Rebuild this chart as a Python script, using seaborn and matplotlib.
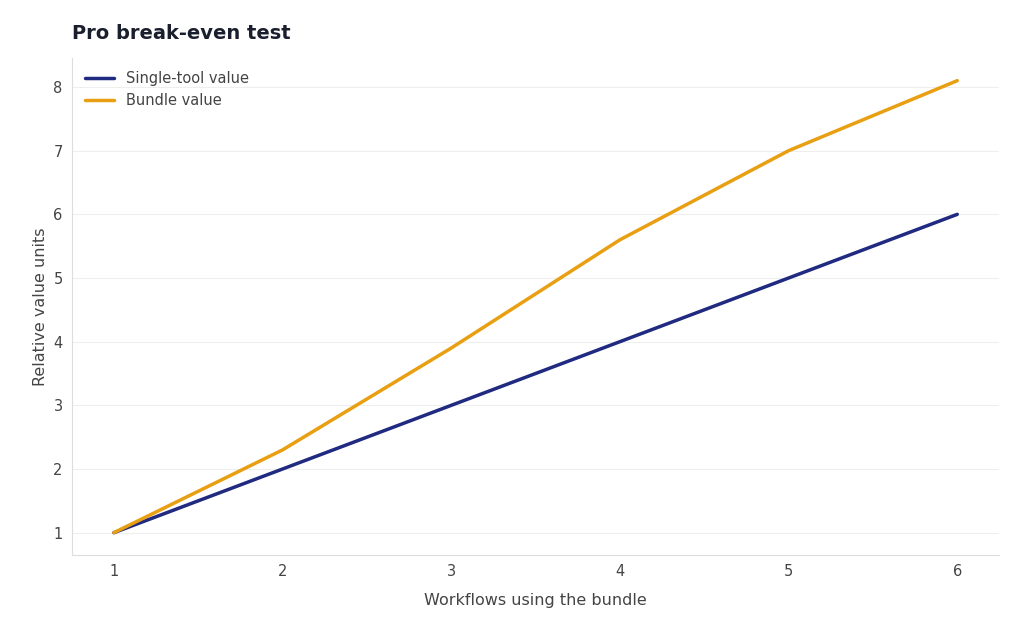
import matplotlib
matplotlib.use("Agg")
import matplotlib.pyplot as plt
import seaborn as sns
import pandas as pd

workflows = [1, 2, 3, 4, 5, 6]
single_tool = [1, 2, 3, 4, 5, 6]
bundle = [1, 2.3, 3.9, 5.6, 7.0, 8.1]

sns.set_style("white")
plt.rcParams['font.family'] = ['DejaVu Sans']

df = pd.DataFrame({
    "Workflows": workflows * 2,
    "Value": single_tool + bundle,
    "Series": ["Single-tool value"] * 6 + ["Bundle value"] * 6,
})

fig, ax = plt.subplots(figsize=(10.24, 6.31), dpi=100)
fig.subplots_adjust(left=0.07, right=0.976, top=0.908, bottom=0.12)
sns.lineplot(data=df, x="Workflows", y="Value", hue="Series",
             palette=["#1f2a80", "#e89f12"], linewidth=2.5, ax=ax)

ax.set_xticks(workflows)
ax.set_yticks(range(1, 9))
ax.grid(axis="y", color="#eeeeee", linewidth=0.8)
ax.set_axisbelow(True)
for s in ["top", "right"]:
    ax.spines[s].set_visible(False)
for s in ["left", "bottom"]:
    ax.spines[s].set_color("#dddddd")
ax.tick_params(colors="#444444", labelsize=10.5, length=3)
ax.set_xlabel("Workflows using the bundle", color="#444444", fontsize=11.5, labelpad=10)
ax.set_ylabel("Relative value units", color="#444444", fontsize=11.5)
ax.set_title("Pro break-even test", loc="left", fontsize=14, fontweight="bold",
             color="#1a1f2e", pad=14)
leg = ax.legend(title=None, frameon=False, loc="upper left", fontsize=10.5)
for t in leg.get_texts():
    t.set_color("#444444")

fig.savefig("out.png", dpi=100)
